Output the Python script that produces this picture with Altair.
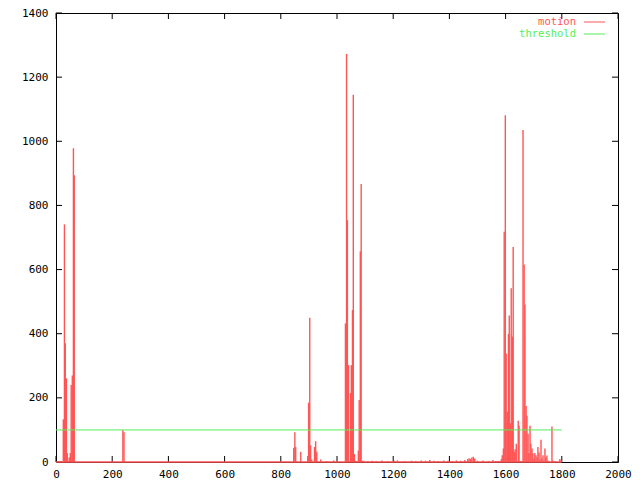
import altair as alt
import pandas as pd

# ---------------- data ----------------
frames = [
    26, 30, 33, 37, 40, 44, 47, 51, 54, 58, 62, 65,
    238, 242,
    846, 850, 853, 871, 896, 899, 903, 906, 910, 920, 924, 928, 942, 963, 988,
    1030, 1034, 1037, 1041, 1044, 1048, 1051, 1055, 1058, 1062, 1065, 1069, 1072,
    1076, 1079, 1083, 1086, 1090,
    1095, 1110, 1125, 1140, 1160, 1180, 1205, 1215, 1240, 1265, 1280, 1300, 1315,
    1330, 1345, 1360, 1380, 1395, 1410, 1425, 1440, 1455, 1465, 1470, 1475, 1480,
    1485, 1490, 1500, 1520, 1540, 1555, 1565,
    1571, 1574, 1581, 1585, 1588, 1592, 1595, 1599, 1602, 1606, 1610, 1613, 1617,
    1620, 1624, 1627, 1631, 1634, 1638, 1641, 1645, 1648, 1652, 1655, 1659, 1662,
    1666, 1669, 1673, 1676, 1680, 1683, 1687, 1690, 1694, 1697, 1701, 1704,
    1708, 1712, 1715, 1719, 1722, 1726, 1729, 1733, 1736, 1740, 1743, 1747, 1750,
    1754, 1765, 1768, 1775, 1793, 1797,
]
motion = [
    133, 741, 370, 261, 28, 3, 14, 28, 240, 270, 978, 894,
    100, 93,
    44, 93, 47, 32, 19, 185, 450, 52, 8, 47, 65, 32, 8, 3, 5,
    432, 1272, 754, 302, 3, 215, 302, 474, 1145, 25, 4, 2, 2,
    35, 193, 657, 867, 4,
    4, 3, 4, 3, 5, 3, 4, 5, 3, 4, 3, 5, 4,
    6, 4, 3, 5, 4, 3, 5, 4, 6, 9, 12, 10, 14,
    16, 11, 4, 5, 3, 6, 3,
    3, 3, 3, 9, 21, 42, 718, 1081, 338, 157, 399, 457, 121,
    542, 391, 670, 32, 40, 57, 3, 129, 113, 3, 3, 3, 1035,
    616, 491, 175, 144, 88, 28, 113, 57, 42, 27, 11, 28,
    21, 15, 47, 30, 8, 69, 12, 21, 5, 42, 15, 20, 5,
    3, 111, 5, 3, 9, 5,
]
threshold_level = [100]
frame_range_start = [0]
frame_range_end = [1800]

x_ticks = [0, 200, 400, 600, 800, 1000, 1200, 1400, 1600, 1800, 2000]
y_ticks = [0, 200, 400, 600, 800, 1000, 1200, 1400]
legend_labels = ["motion", "threshold"]

# ---------------- style ----------------
W, H = 562, 449
RED = "#ff5555"
GREEN = "#55ee55"
FONT = "DejaVu Sans Mono"
FS = 11
TICK = 6

xs = alt.Scale(domain=[0, 2000], nice=False, zero=False)
ys = alt.Scale(domain=[0, 1400], nice=False, zero=False)

x_axis = alt.Axis(values=x_ticks, ticks=False, domain=False, grid=False,
                  labelFont=FONT, labelFontSize=FS, labelColor="black",
                  labelPadding=6, labelFlush=False, labelOverlap=False,
                  title=None, format="d")
y_axis = alt.Axis(values=y_ticks, ticks=False, domain=False, grid=False,
                  labelFont=FONT, labelFontSize=FS, labelColor="black",
                  labelPadding=8, labelFlush=False, labelOverlap=False,
                  title=None, format="d")

df = pd.DataFrame({"frame": frames, "motion": motion})
xt = pd.DataFrame({"v": x_ticks})
yt = pd.DataFrame({"v": y_ticks})

# inward tick marks on all four sides
ticks_bottom = alt.Chart(xt).mark_rule(color="black", strokeWidth=1).encode(
    x=alt.X("v:Q", scale=xs, axis=x_axis), y=alt.value(H), y2=alt.value(H - TICK))
ticks_top = alt.Chart(xt).mark_rule(color="black", strokeWidth=1).encode(
    x=alt.X("v:Q", scale=xs), y=alt.value(0), y2=alt.value(TICK))
ticks_left = alt.Chart(yt).mark_rule(color="black", strokeWidth=1).encode(
    y=alt.Y("v:Q", scale=ys, axis=y_axis), x=alt.value(0), x2=alt.value(TICK))
ticks_right = alt.Chart(yt).mark_rule(color="black", strokeWidth=1).encode(
    y=alt.Y("v:Q", scale=ys), x=alt.value(W - TICK), x2=alt.value(W))

base_df = pd.DataFrame({"a": frame_range_start, "b": frame_range_end, "y": [0]})
baseline = alt.Chart(base_df).mark_rule(color=RED, strokeWidth=1.5).encode(
    x=alt.X("a:Q", scale=xs), x2="b:Q", y=alt.Y("y:Q", scale=ys))

impulses = alt.Chart(df).mark_rule(color=RED, strokeWidth=1.4).encode(
    x=alt.X("frame:Q", scale=xs),
    y=alt.Y("motion:Q", scale=ys),
    y2=alt.datum(0),
)

thr_df = pd.DataFrame({"a": frame_range_start, "b": frame_range_end, "y": threshold_level})
threshold = alt.Chart(thr_df).mark_rule(color=GREEN, strokeWidth=1).encode(
    x=alt.X("a:Q", scale=xs), x2="b:Q", y=alt.Y("y:Q", scale=ys))

# legend (gnuplot style, top right inside the frame)
legend_layers = []
for i, (lab, col) in enumerate(zip(legend_labels, [RED, GREEN])):
    ly = 9 + i * 12
    legend_layers.append(
        alt.Chart(pd.DataFrame({"label": [lab]})).mark_text(
            align="right", baseline="middle", font=FONT, fontSize=FS - 0.5, color=col
        ).encode(text="label:N", x=alt.value(W - 42), y=alt.value(ly))
    )
    legend_layers.append(
        alt.Chart(pd.DataFrame({"label": [lab]})).mark_rule(color=col, strokeWidth=1).encode(
            x=alt.value(W - 34), x2=alt.value(W - 13), y=alt.value(ly))
    )

chart = alt.layer(
    ticks_bottom, ticks_top, ticks_left, ticks_right,
    baseline, impulses, threshold, *legend_layers
).properties(
    width=W, height=H,
    autosize=alt.AutoSizeParams(type="none"),
    padding={"left": 48, "top": 5, "right": 14, "bottom": 18},
    background="white",
).configure_view(stroke="black", strokeWidth=1)

chart.save("out.html", embed_options={"renderer": "svg", "actions": False})
